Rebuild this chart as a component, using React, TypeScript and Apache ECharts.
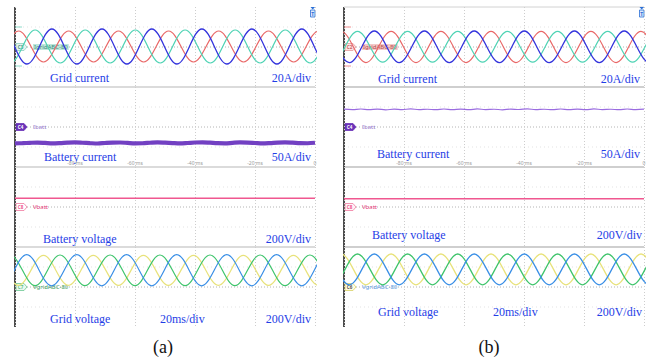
import React, { useEffect, useRef } from "react";
import * as echarts from "echarts";

type Pt = [number, number];

// Time axis (ms), 20 ms/div
const timeTicks = [-100, -80, -60, -40, -20, 0];

// ---------- (a) ----------
// Grid current (A): extremes
const iGridA_red: Pt[] = [[-115.4, 8], [-107.1, -7.5], [-98.8, 8], [-90.5, -7.5], [-82.1, 8], [-73.8, -7.5], [-65.5, 8], [-57.1, -7.5], [-48.8, 8], [-40.5, -7.5], [-32.1, 8], [-23.8, -7.5], [-15.5, 8], [-7.1, -7.5], [1.2, 8], [9.5, -7.5]];
const iGridA_teal: Pt[] = [[-109.9, 8.5], [-101.6, -8], [-93.3, 8.5], [-84.9, -8], [-76.6, 8.5], [-68.3, -8], [-59.9, 8.5], [-51.6, -8], [-43.3, 8.5], [-34.9, -8], [-26.6, 8.5], [-18.3, -8], [-9.9, 8.5], [-1.6, -8], [6.8, 8.5], [15.1, -8]];
const iGridA_blue: Pt[] = [[-112.7, -8.5], [-104.4, 9], [-96.0, -8.5], [-87.7, 9], [-79.4, -8.5], [-71.0, 9], [-62.7, -8.5], [-54.4, 9], [-46.0, -8.5], [-37.7, 9], [-29.4, -8.5], [-21.0, 9], [-12.7, -8.5], [-4.4, 9], [3.9, -8.5], [12.3, 9]];
// Battery current (A)
const iBattA: Pt[] = [[-100, -20.5], [-97.5, -20.2], [-95, -19.8], [-92.5, -19.5], [-90, -19.9], [-87.5, -20.4], [-85, -20.1], [-82.5, -19.6], [-80, -19.3], [-77.5, -19.7], [-75, -20.2], [-72.5, -20.6], [-70, -20.0], [-67.5, -19.5], [-65, -19.4], [-62.5, -19.9], [-60, -20.4], [-57.5, -20.3], [-55, -19.7], [-52.5, -19.2], [-50, -19.6], [-47.5, -20.1], [-45, -20.5], [-42.5, -20.0], [-40, -19.4], [-37.5, -19.1], [-35, -19.6], [-32.5, -20.2], [-30, -20.4], [-27.5, -19.8], [-25, -19.3], [-22.5, -19.5], [-20, -20.0], [-17.5, -20.5], [-15, -20.1], [-12.5, -19.5], [-10, -19.2], [-7.5, -19.6], [-5, -20.2], [-2.5, -20.3], [0, -19.7]];
// Battery voltage (V)
const vBattA: Pt[] = [[-100, 43.5], [-50, 43.5], [0, 43.5]];
// Grid voltage (V)
const vGridA_blue: Pt[] = [[-112.8, 162], [-104.4, 6], [-96.1, 162], [-87.8, 6], [-79.4, 162], [-71.1, 6], [-62.8, 162], [-54.4, 6], [-46.1, 162], [-37.8, 6], [-29.4, 162], [-21.1, 6], [-12.8, 162], [-4.4, 6], [3.9, 162], [12.2, 6]];
const vGridA_yellow: Pt[] = [[-115.5, 8], [-107.2, 158], [-98.9, 8], [-90.5, 158], [-82.2, 8], [-73.9, 158], [-65.5, 8], [-57.2, 158], [-48.9, 8], [-40.5, 158], [-32.2, 8], [-23.9, 158], [-15.5, 8], [-7.2, 158], [1.1, 8], [9.5, 158]];
const vGridA_green: Pt[] = [[-110.0, 7], [-101.7, 160], [-93.3, 7], [-85.0, 160], [-76.7, 7], [-68.3, 160], [-60.0, 7], [-51.7, 160], [-43.3, 7], [-35.0, 160], [-26.7, 7], [-18.3, 160], [-10.0, 7], [-1.7, 160], [6.7, 7], [15.0, 160]];

// ---------- (b) ----------
const iGridB_red: Pt[] = [[-109.3, -7.8], [-101.0, 7.8], [-92.7, -7.8], [-84.3, 7.8], [-76.0, -7.8], [-67.7, 7.8], [-59.3, -7.8], [-51.0, 7.8], [-42.7, -7.8], [-34.3, 7.8], [-26.0, -7.8], [-17.7, 7.8], [-9.3, -7.8], [-1.0, 7.8], [7.3, -7.8], [15.7, 7.8]];
const iGridB_teal: Pt[] = [[-112.1, 7.8], [-103.8, -7.6], [-95.5, 7.8], [-87.1, -7.6], [-78.8, 7.8], [-70.5, -7.6], [-62.1, 7.8], [-53.8, -7.6], [-45.5, 7.8], [-37.1, -7.6], [-28.8, 7.8], [-20.5, -7.6], [-12.1, 7.8], [-3.8, -7.6], [4.5, 7.8], [12.9, -7.6]];
const iGridB_blue: Pt[] = [[-114.9, -7.8], [-106.6, 8], [-98.2, -7.8], [-89.9, 8], [-81.6, -7.8], [-73.2, 8], [-64.9, -7.8], [-56.6, 8], [-48.2, -7.8], [-39.9, 8], [-31.6, -7.8], [-23.2, 8], [-14.9, -7.8], [-6.6, 8], [1.8, -7.8], [10.1, 8]];
const iBattB: Pt[] = [[-100, 22.3], [-97.2, 21.7], [-94.4, 22.5], [-91.7, 21.8], [-88.9, 22.4], [-86.1, 21.5], [-83.3, 22.3], [-80.6, 21.8], [-77.8, 22.6], [-75.0, 21.7], [-72.2, 22.2], [-69.4, 21.6], [-66.7, 22.5], [-63.9, 21.8], [-61.1, 22.3], [-58.3, 21.6], [-55.6, 22.6], [-52.8, 21.8], [-50.0, 22.2], [-47.2, 21.5], [-44.4, 22.4], [-41.7, 21.9], [-38.9, 22.6], [-36.1, 21.7], [-33.3, 22.2], [-30.6, 21.6], [-27.8, 22.5], [-25.0, 21.8], [-22.2, 22.3], [-19.4, 21.6], [-16.7, 22.6], [-13.9, 21.8], [-11.1, 22.2], [-8.3, 21.6], [-5.6, 22.5], [-2.8, 21.8], [0, 22.3]];
const vBattB: Pt[] = [[-100, 41.5], [-50, 41.5], [0, 41.5]];
const vGridB_blue: Pt[] = [[-114.9, 11], [-106.6, 165], [-98.2, 11], [-89.9, 165], [-81.6, 11], [-73.2, 165], [-64.9, 11], [-56.6, 165], [-48.2, 11], [-39.9, 165], [-31.6, 11], [-23.2, 165], [-14.9, 11], [-6.6, 165], [1.8, 11], [10.1, 165]];
const vGridB_green: Pt[] = [[-112.1, 165], [-103.8, 11], [-95.5, 165], [-87.1, 11], [-78.8, 165], [-70.5, 11], [-62.1, 165], [-53.8, 11], [-45.5, 165], [-37.1, 11], [-28.8, 165], [-20.5, 11], [-12.1, 165], [-3.8, 11], [4.5, 165], [12.9, 11]];
const vGridB_yellow: Pt[] = [[-109.3, 11], [-101.0, 165], [-92.7, 11], [-84.3, 165], [-76.0, 11], [-67.7, 165], [-59.3, 11], [-51.0, 165], [-42.7, 11], [-34.3, 165], [-26.0, 11], [-17.7, 165], [-9.3, 11], [-1.0, 165], [7.3, 11], [15.7, 165]];

// Strip ranges (2 div per strip): 20 A/div, 50 A/div, 200 V/div, 200 V/div
const stripRanges: Pt[] = [[-20, 20], [-50, 50], [-200, 200], [-200, 200]];
const stripLabels = ["Grid current", "Battery current", "Battery voltage", "Grid voltage"];
const stripScales = ["20A/div", "50A/div", "200V/div", "200V/div"];
const timeScale = "20ms/div";
const panelCaptions = ["(a)", "(b)"];

const PANEL_LEFT = [15, 344];
const PLOT_W = 300;
const TOPS = [7, 87, 167, 247];
const STRIP_H = 80;
const SERIF = "'Liberation Serif', 'Times New Roman', serif";
const SANS = "'Noto Sans', 'DejaVu Sans', sans-serif";
const LABEL_BLUE = "#1f3ee6";

function line(gi: number, data: Pt[], color: string, width: number, smooth: number | boolean = 0.36) {
  return {
    type: "line",
    xAxisIndex: gi,
    yAxisIndex: gi,
    data,
    symbol: "none",
    showSymbol: false,
    smooth,
    clip: true,
    silent: true,
    lineStyle: { color, width },
  };
}

function tag(x: number, y: number, code: string, fill: string, stroke: string, codeColor: string, name: string, nameColor: string, nameBg?: string) {
  return {
    type: "group",
    children: [
      {
        type: "polygon",
        shape: { points: [[x, y - 3.5], [x + 8, y - 3.5], [x + 11, y], [x + 8, y + 3.5], [x, y + 3.5]] },
        style: { fill, stroke, lineWidth: 0.8 },
      },
      {
        type: "text",
        x: x + 4.5,
        y: y,
        style: { text: code, fill: codeColor, fontSize: 4.5, fontFamily: SANS, fontWeight: "bold", align: "center", verticalAlign: "middle", textAlign: "center", textVerticalAlign: "middle" },
      },
      {
        type: "text",
        x: x + 17,
        y: y,
        style: { text: name, fill: nameColor, fontSize: 6, fontFamily: SANS, backgroundColor: nameBg, padding: nameBg ? [0, 1] : 0, align: "left", verticalAlign: "middle", textAlign: "left", textVerticalAlign: "middle" },
      },
    ],
  };
}

function txt(x: number, y: number, text: string, align: string, size = 12, color = LABEL_BLUE) {
  return {
    type: "text",
    x,
    y,
    style: { text, fill: color, fontSize: size, fontFamily: SERIF, align, verticalAlign: "middle", textAlign: align, textVerticalAlign: "middle" },
  };
}

function hline(x1: number, x2: number, y: number, color: string, width: number, dash?: number[]) {
  return { type: "line", shape: { x1, y1: y, x2, y2: y }, style: { stroke: color, lineWidth: width, lineDash: dash } };
}

function buildOption() {
  const grid: any[] = [];
  const xAxis: any[] = [];
  const yAxis: any[] = [];
  for (let p = 0; p < 2; p++) {
    for (let s = 0; s < 4; s++) {
      const gi = p * 4 + s;
      grid.push({ left: PANEL_LEFT[p], top: TOPS[s], width: PLOT_W, height: STRIP_H, containLabel: false });
      xAxis.push({
        gridIndex: gi,
        type: "value",
        min: timeTicks[0],
        max: timeTicks[timeTicks.length - 1],
        interval: 20,
        axisLine: { show: false },
        axisTick: { show: false },
        axisLabel: {
          show: s === 1,
          inside: true,
          fontSize: 5,
          color: "#9a9a9a",
          fontFamily: SANS,
          margin: 2,
          formatter: (v: number) => (v === -100 ? "" : v === 0 ? "0" : `${v} ms`),
        },
        splitLine: { show: true, lineStyle: { color: "#cdcdcd", type: [1, 2], width: 1 } },
      });
      yAxis.push({ gridIndex: gi, type: "value", min: stripRanges[s][0], max: stripRanges[s][1], show: false });
    }
  }

  const series: any[] = [
    // (a)
    line(0, iGridA_red, "#e96868", 1.2),
    line(0, iGridA_teal, "#4fd3b4", 1.2),
    line(0, iGridA_blue, "#3434dc", 1.3),
    line(1, iBattA, "#7240c2", 4.2, 0.3),
    line(2, vBattA, "#f0578f", 1.4, false),
    line(3, vGridA_yellow, "#e8e27a", 1.2),
    line(3, vGridA_green, "#3fc46c", 1.2),
    line(3, vGridA_blue, "#3a8fe6", 1.2),
    // (b)
    line(4, iGridB_red, "#e96868", 1.2),
    line(4, iGridB_teal, "#4fd3b4", 1.2),
    line(4, iGridB_blue, "#3434dc", 1.3),
    line(5, iBattB, "#9a6ce0", 1.2, 0.4),
    line(6, vBattB, "#f0578f", 1.4, false),
    line(7, vGridB_yellow, "#e8e27a", 1.3),
    line(7, vGridB_green, "#3fc46c", 1.3),
    line(7, vGridB_blue, "#3a8fe6", 1.3),
  ];

  const g: any[] = [];
  for (let p = 0; p < 2; p++) {
    const L = PANEL_LEFT[p];
    const R = L + PLOT_W;
    // centre dotted reference lines and faint half-division rows
    for (let s = 0; s < 4; s++) {
      const top = TOPS[s];
      g.push(hline(L, R, top + 20, "#e3e3e3", 1, [1, 3]));
      g.push(hline(L, R, top + 60, "#e3e3e3", 1, [1, 3]));
      g.push(hline(L, R, top + 40, "#b4b4b4", 1, [1, 2]));
    }
    // strip separators
    for (let s = 1; s < 4; s++) g.push(hline(L, R, TOPS[s], "#cfcfcf", p === 0 ? 1.5 : 2));
    if (p === 1) g.push(hline(L, R, TOPS[0], "#d2d2d2", 1));
    // left black border
    g.push({ type: "line", shape: { x1: L, y1: TOPS[0], x2: L, y2: TOPS[3] + STRIP_H }, style: { stroke: "#111", lineWidth: 1.5 } });
    // level markers on grid current strip
    const mk = p === 0 ? "#8fdccb" : "#f09090";
    g.push(hline(L, L + 7, 27, mk, 1));
    g.push(hline(L, L + 7, 66, mk, 1));
    // trigger marker
    g.push({ type: "polygon", shape: { points: [[R - 4.5, 7], [R, 7], [R - 2.25, 9.5]] }, style: { fill: "#2a6fd6" } });
    g.push({ type: "rect", shape: { x: R - 4.5, y: 10, width: 4.5, height: 7 }, style: { fill: "#dce9fb", stroke: "#2a6fd6", lineWidth: 0.8 } });
    g.push({ type: "text", x: R - 2.25, y: 13.5, style: { text: "T", fill: "#2a6fd6", fontSize: 5, fontFamily: SANS, fontWeight: "bold", align: "center", verticalAlign: "middle", textAlign: "center", textVerticalAlign: "middle" } });
  }

  // channel tags
  g.push(tag(16, 47, "C3", "#e4f3ef", "#8fcfbf", "#4a8f80", "IgridABC-80", "#3c8f7e", "#bfe6dc"));
  g.push(tag(16, 127, "C4", "#6a32b8", "#6a32b8", "#ffffff", "Ibatt", "#9a7ad0"));
  g.push(tag(16, 207, "C8", "#ffffff", "#f07aa0", "#f0578f", "Vbatt", "#e8407a"));
  g.push(tag(16, 287, "C7", "#eaf8ef", "#6cc892", "#5cbf86", "VgridABC-80", "#3aa060"));
  g.push(tag(345, 47, "C2", "#fbe3e3", "#e59a9a", "#c86060", "IgridABC-80", "#b84a4a", "#f3c9c9"));
  g.push(tag(345, 127, "C4", "#6a32b8", "#6a32b8", "#ffffff", "Ibatt", "#9a7ad0"));
  g.push(tag(345, 207, "C8", "#fff3f6", "#f07aa0", "#f0578f", "Vbatt", "#e8407a"));
  g.push(tag(345, 287, "C6", "#fffbe2", "#d8d066", "#555555", "VgridABC-80", "#5a9ae0"));

  // (a) labels
  g.push(txt(50, 78, stripLabels[0], "left"));
  g.push(txt(311, 78, stripScales[0], "right"));
  g.push(txt(44, 157, stripLabels[1], "left"));
  g.push(txt(311, 157, stripScales[1], "right"));
  g.push(txt(43, 239, stripLabels[2], "left"));
  g.push(txt(311, 239, stripScales[2], "right"));
  g.push(txt(50, 319, stripLabels[3], "left"));
  g.push(txt(160, 319, timeScale, "left"));
  g.push(txt(311, 319, stripScales[3], "right"));
  // (b) labels
  g.push(txt(378, 79, stripLabels[0], "left"));
  g.push(txt(640, 79, stripScales[0], "right"));
  g.push(txt(377, 154, stripLabels[1], "left"));
  g.push(txt(640, 154, stripScales[1], "right"));
  g.push(txt(372, 235, stripLabels[2], "left"));
  g.push(txt(642, 235, stripScales[2], "right"));
  g.push(txt(378, 312, stripLabels[3], "left"));
  g.push(txt(493, 312, timeScale, "left"));
  g.push(txt(642, 312, stripScales[3], "right"));
  // captions
  g.push(txt(163, 347, panelCaptions[0], "center", 18, "#111"));
  g.push(txt(489, 347, panelCaptions[1], "center", 18, "#111"));

  return {
    animation: false,
    backgroundColor: "#ffffff",
    grid,
    xAxis,
    yAxis,
    series,
    graphic: g,
  };
}

export default function App() {
  const ref = useRef<HTMLDivElement>(null);
  useEffect(() => {
    if (!ref.current) return;
    const chart = echarts.init(ref.current, undefined, { renderer: "svg" });
    chart.setOption(buildOption() as any);
    return () => chart.dispose();
  }, []);
  return <div ref={ref} style={{ position: "fixed", left: 0, top: 0, width: 652, height: 360 }} />;
}
